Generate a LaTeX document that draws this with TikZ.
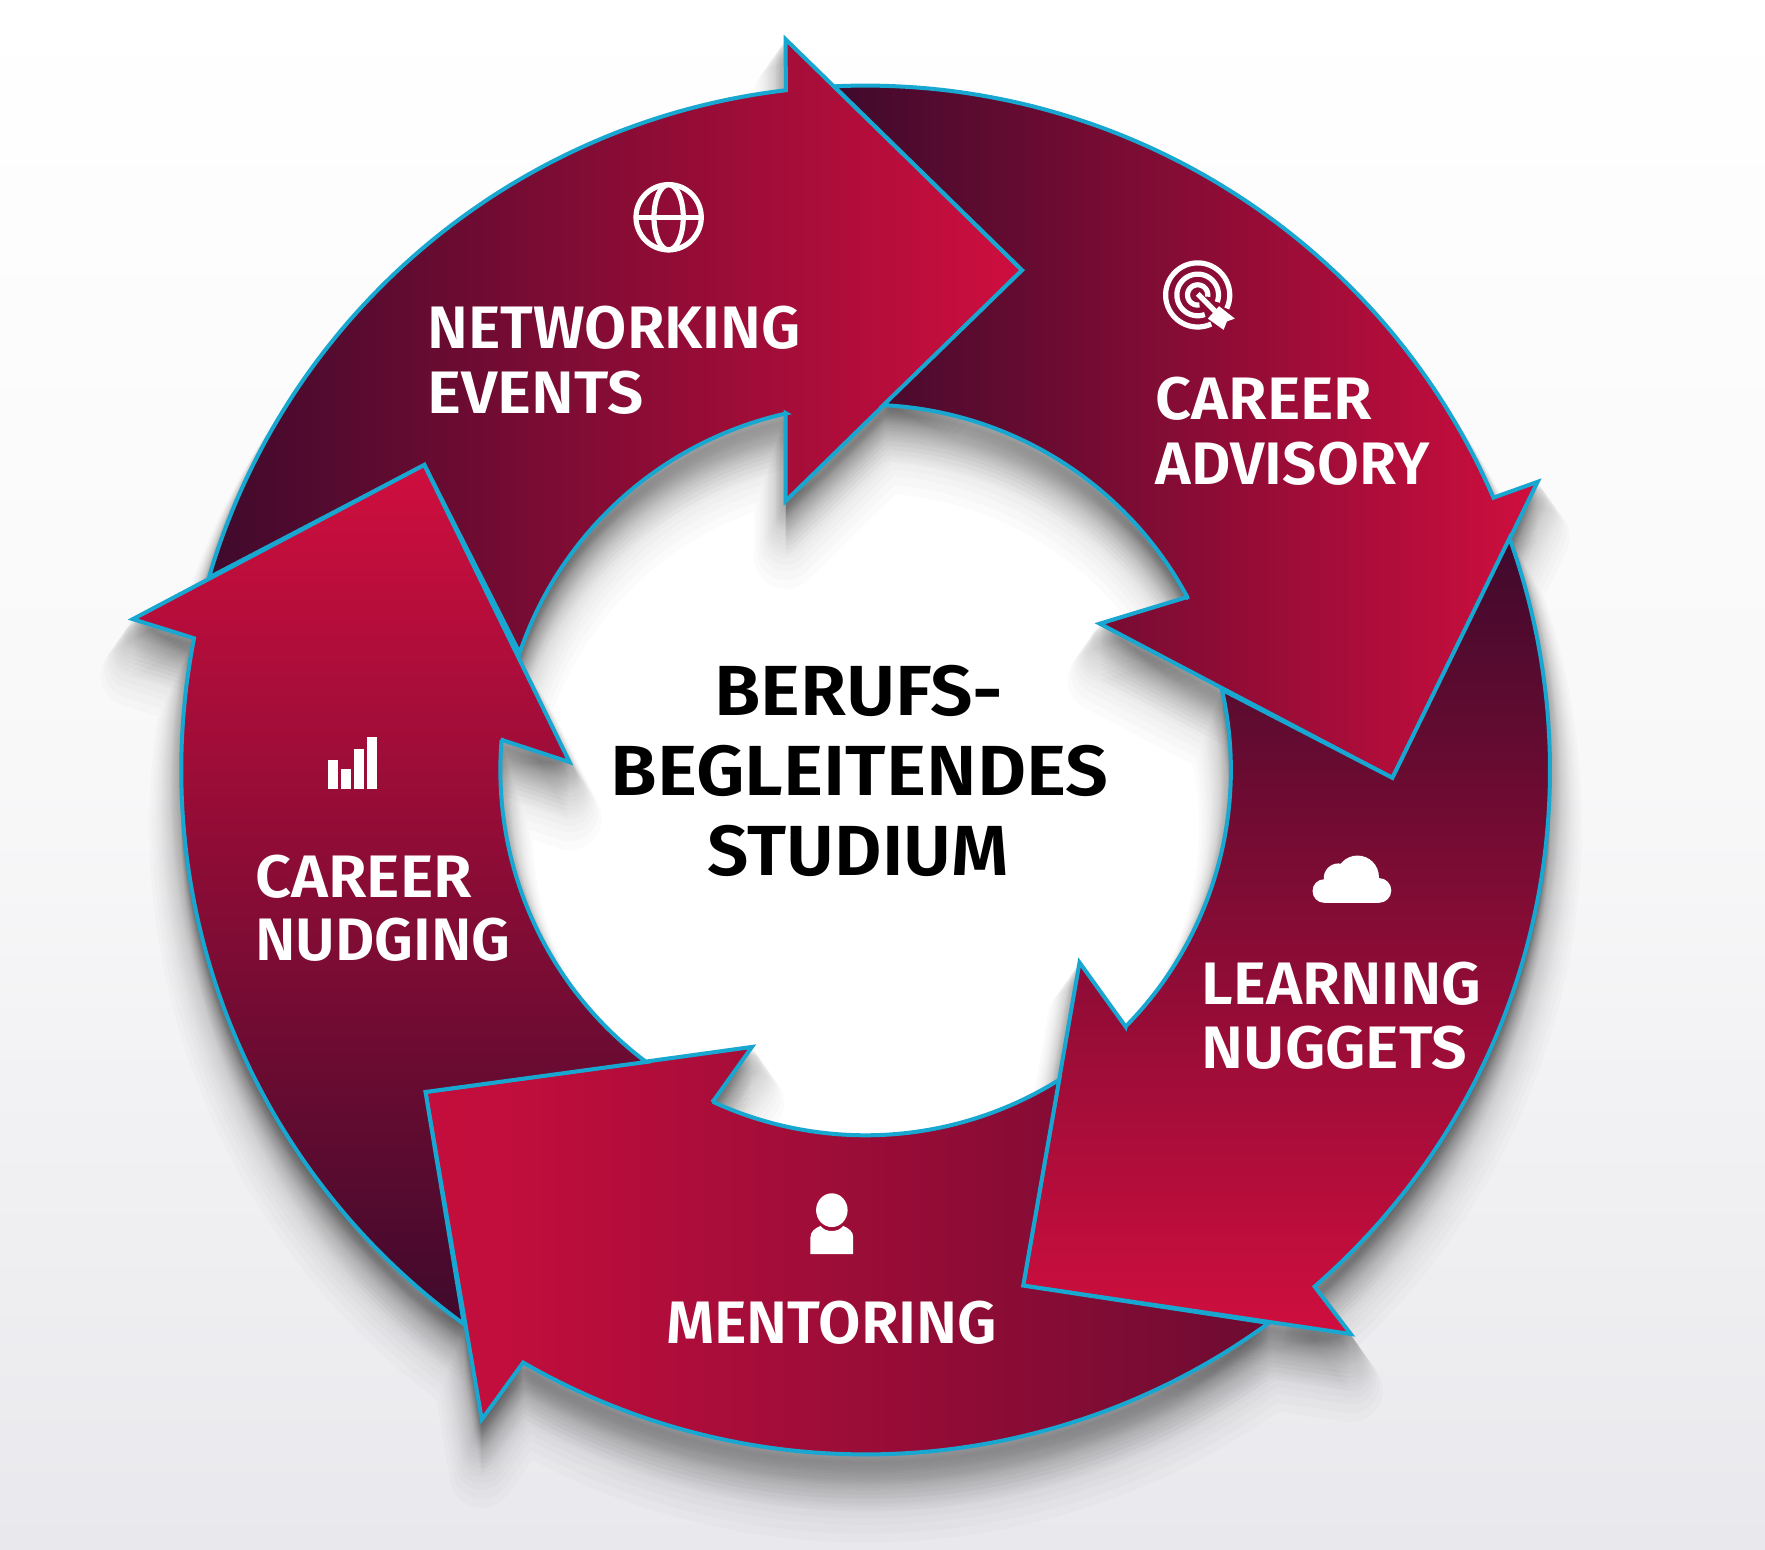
\documentclass[tikz,border=0pt]{standalone}
\usepackage{fontspec}
\setmainfont{Fira Sans}[BoldFont={Fira Sans SemiBold}]
\definecolor{ringdark}{HTML}{3F0A2C}
\definecolor{ringred}{HTML}{CF0E3E}
\definecolor{ringline}{HTML}{18A7D0}
\definecolor{bgmid}{HTML}{F8F8F9}
\definecolor{bgbot}{HTML}{E9E8EC}
\pgfdeclarehorizontalshading{mentorshade}{100bp}{color(0bp)=(ringred!85!ringdark); color(9bp)=(ringred); color(30bp)=(ringred!90!ringdark); color(100bp)=(ringdark)}
\def\outarc#1#2{plot[domain=#1:#2,samples=80] ({769+608*cos(\x)},{684+608*sin(\x)})}
\def\innarc#1#2{-- plot[domain=#1:#2,samples=60] ({769+324.5*cos(\x)},{684+324.5*sin(\x)})}
\def\pA{\outarc{196.33}{263.3} -- (698,35) -- (908,240) -- (698,445) -- (698,367) \innarc{257.45}{198.7} -- (377,413) -- cycle}
\def\pB{\outarc{267.36}{336.55} -- (1366,428) -- (1237,691) -- (977,554) -- (1056,530) \innarc{331.8}{272.8} -- (908,240) -- cycle}
\def\pC{\outarc{-19.8}{49} -- (1200,1185) -- (909,1142) -- (959,855) -- (1000,912) \innarc{44.6}{-12.7} -- (1237,691) -- cycle}
\def\pD{\outarc{53.9}{120.03} -- (428,1261) -- (378,970) -- (668,930) -- (633,979) \innarc{114.75}{58} -- (909,1142) -- cycle}
\def\pE{\outarc{125.94}{191.1} -- (118,550) -- (377,413) -- (506,677) -- (445,657) \innarc{184.76}{126.94} -- (378,970) -- cycle}
\tikzset{
  ringpart/.style={draw=ringline,line width=4pt,line join=miter,miter limit=6},
  ringlabel/.style={text=white,font=\fontsize{60}{60}\selectfont\bfseries,anchor=base west,inner sep=0pt},
  midlabel/.style={text=black,font=\fontsize{71}{71}\selectfont\bfseries,anchor=base,inner sep=0pt},
  iconline/.style={draw=white,line width=5.2pt},
  iconfill/.style={fill=white,draw=none}
}
\begin{document}
\begin{tikzpicture}[x=1.12564pt,y=-1.12573pt]
\useasboundingbox (0,0) rectangle (1568,1376);
% background
\shade[top color=white,bottom color=bgbot,middle color=bgmid] (0,0) rectangle (1568,1376);
\fill[white] (769,684) circle [radius=340];
% soft shadow
\foreach \t in {1,2,...,14,16,18,...,26,29,32,36,40}{
  \begin{scope}[yshift=-\t*1.4pt]
  \path[fill=black,draw=black,line width=1.6*\t pt,line join=round,opacity=0.016]
    \pA \pB \pC \pD \pE;
  \end{scope}
}
% arrows
\draw[ringpart,left color=ringdark,right color=ringred] \pA;
\draw[ringpart,left color=ringdark,right color=ringred] \pB;
\draw[ringpart,top color=ringdark,bottom color=ringred] \pC;
\shade[ringpart,shading=mentorshade] \pD;
\draw[ringpart,top color=ringred,bottom color=ringdark] \pE;
% labels
\node[ringlabel,xscale=1.02] (net1) at (379.5,310) {NETWORKING};
\node[ringlabel,xscale=1.07] (net2) at (379.5,367) {EVENTS};
\node[ringlabel,xscale=1.05] (adv1) at (1026.5,373) {CAREER};
\node[ringlabel,xscale=1.012] (adv2) at (1026.5,430) {ADVISORY};
\node[ringlabel,xscale=1.033] (lea1) at (1067.5,892) {LEARNING};
\node[ringlabel,xscale=1.05] (lea2) at (1067.5,949) {NUGGETS};
\node[ringlabel,xscale=1.025] (men1) at (591.5,1193) {MENTORING};
\node[ringlabel,xscale=1.05] (nud1) at (226.5,797) {CAREER};
\node[ringlabel,xscale=1.01] (nud2) at (226.5,853) {NUDGING};
\node[midlabel,xscale=1.06] (mid1) at (763,636) {BERUFS-};
\node[midlabel,xscale=1.068] (mid2) at (763.5,707) {BEGLEITENDES};
\node[midlabel,xscale=1.03] (mid3) at (762.5,778) {STUDIUM};
% globe
\draw[iconline] (594,193) circle [x radius=29,y radius=29];
\draw[iconline] (594,193) ellipse [x radius=13,y radius=29];
\draw[iconline] (565,193) -- (623,193);
% target
\draw[iconline] plot[domain=65:385,samples=50] ({1064+28.5*cos(\x)},{262+28.5*sin(\x)});
\draw[iconline] plot[domain=70:380,samples=40] ({1064+18.5*cos(\x)},{262+18.5*sin(\x)});
\draw[iconline] plot[domain=80:370,samples=30] ({1064+9*cos(\x)},{262+9*sin(\x)});
\draw[iconline] (1064,261) -- (1082,279);
\fill[iconfill] (1073,283) -- (1083,272) -- (1097,283) -- (1090,285.5) -- (1087,293) -- cycle;
% bars
\fill[iconfill] (291,675.2) rectangle (300.5,701.2);
\fill[iconfill] (302.7,683) rectangle (312,701.2);
\fill[iconfill] (314.2,665.7) rectangle (323.7,701.2);
\fill[iconfill] (325.8,654.5) rectangle (335.2,701.2);
% cloud
\fill[iconfill] (1176.5,791.5) circle [radius=10.5];
\fill[iconfill] (1189,780) circle [radius=13];
\fill[iconfill] (1206,779) circle [radius=19];
\fill[iconfill] (1225,791) circle [radius=11];
\fill[iconfill] (1176.5,785) rectangle (1225,802);
% person
\fill[iconfill] (739,1075) ellipse [x radius=14,y radius=15];
\fill[iconfill] (720,1114) -- (720,1099) .. controls (720,1094) and (724,1091) .. (729,1089)
  .. controls (733,1095) and (745,1095) .. (749,1089)
  .. controls (754,1091) and (758,1094) .. (758,1099) -- (758,1114) -- cycle;
\end{tikzpicture}
\end{document}
